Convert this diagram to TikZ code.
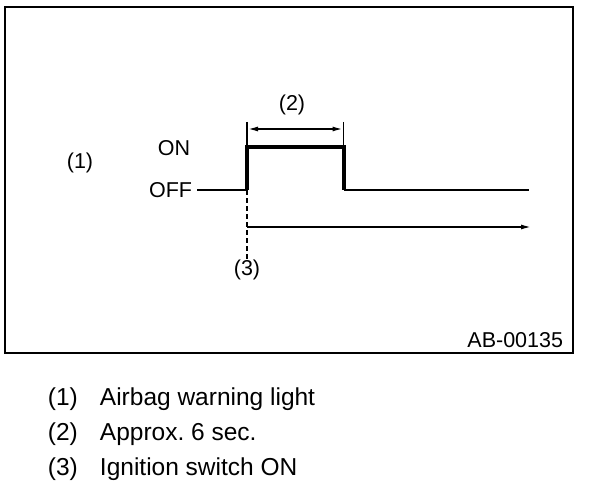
\documentclass[tikz,border=0pt]{standalone}
\usepackage{fontspec}
\setmainfont{Liberation Sans}
\usetikzlibrary{arrows.meta}
\begin{document}
\frenchspacing
\begin{tikzpicture}[x=1pt, y=-1pt, line width=1.9pt, inner sep=0pt,
  font=\fontsize{21.5}{25}\selectfont,
  pulse/.style={line width=4pt},
  dim/.style={{Latex[length=11pt,width=5pt]}-{Latex[length=11pt,width=5pt]}},
  legend/.style={anchor=base west, font=\fontsize{24.5}{28}\selectfont}]
\useasboundingbox (0,0) rectangle (608,492);
\draw (5,7) rectangle (573,353);
\node (P_1) at (80,163) {(1)};
\node (P_on) at (174,148) {ON};
\node[anchor=east] (P_off) at (193,190) {OFF};
\coordinate (P_0_0) at (197,190);
\coordinate (P_0_1) at (247,190);
\coordinate (P_1_1) at (247,147);
\coordinate (P_1_2) at (343.5,147);
\coordinate (P_0_2) at (343.5,190);
\coordinate (P_0_3) at (529,190);
\draw (P_0_0) -- (P_0_1);
\draw[pulse] (P_0_1) -- (P_1_1) -- (P_1_2) -- (P_0_2);
\draw (P_0_2) -- (P_0_3);
\coordinate (P_2_1) at (247,122);
\coordinate (P_2_2) at (343.5,122);
\draw (P_2_1) -- (P_1_1);
\draw (P_2_2) -- (P_1_2);
\coordinate (P_d_1) at (247,129);
\coordinate (P_d_2) at (343.5,129);
\draw[dim] (P_d_1) -- (P_d_2);
\node (P_2) at (292,105) {(2)};
\node (P_3) at (247,270) {(3)};
\draw[dashed, dash pattern=on 5pt off 3pt] (P_0_1) -- (P_3.north);
\coordinate (P_t_0) at (247,227);
\coordinate (P_t_1) at (532,227);
\draw[-{Latex[length=11pt,width=5pt]}] (P_t_0) -- (P_t_1);
\node[anchor=base east] (P_id) at (564,347) {AB-00135};
\node[legend] (N_1) at (47,405) {(1)};
\node[legend] (T_1) at (99,405) {Airbag warning light};
\node[legend] (N_2) at (47,440) {(2)};
\node[legend] (T_2) at (99,440) {Approx. 6 sec.};
\node[legend] (N_3) at (47,475) {(3)};
\node[legend] (T_3) at (99,475) {Ignition switch ON};
\end{tikzpicture}
\end{document}
